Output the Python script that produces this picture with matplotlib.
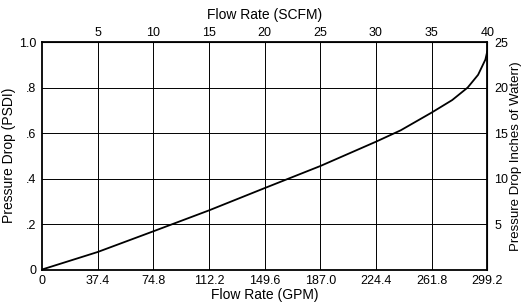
import matplotlib
matplotlib.use("Agg")
import matplotlib.pyplot as plt

# Data
gpm = [0, 37.4, 74.8, 112.2, 149.6, 187.0, 224.4, 241.0, 261.8, 275.6,
       286.0, 293.0, 297.9, 299.2]
psid = [0, 0.077, 0.168, 0.26, 0.358, 0.455, 0.562, 0.612, 0.69, 0.745,
        0.80, 0.856, 0.923, 0.96]

gpm_ticks = [0, 37.4, 74.8, 112.2, 149.6, 187.0, 224.4, 261.8, 299.2]
gpm_labels = ["0", "37.4", "74.8", "112.2", "149.6", "187.0", "224.4", "261.8", "299.2"]
psid_ticks = [0, 0.2, 0.4, 0.6, 0.8, 1.0]
psid_labels = ["0", ".2", ".4", ".6", ".8", "1.0"]
scfm_ticks = [5, 10, 15, 20, 25, 30, 35, 40]
inh2o_ticks = [5, 10, 15, 20, 25]

GPM_PER_SCFM = 7.48
INH2O_PER_PSID = 25.0

plt.rcParams['font.family'] = ['Liberation Sans', 'DejaVu Sans']
fs = 9
lfs = 10

fig = plt.figure(figsize=(5.24, 3.07), dpi=100)
ax = fig.add_axes([0.080, 0.122, 0.850, 0.741])

ax.plot(gpm, psid, color='black', lw=1.3, solid_capstyle='round',
        solid_joinstyle='round')
ax.set_xlim(0, 299.2)
ax.set_ylim(0, 1.0)
ax.set_xticks(gpm_ticks)
ax.set_xticklabels(gpm_labels, fontsize=fs)
ax.set_yticks(psid_ticks)
ax.set_yticklabels(psid_labels, fontsize=fs)
ax.tick_params(length=0, pad=4)
ax.set_xlabel("Flow Rate (GPM)", fontsize=lfs, labelpad=1)
ax.set_ylabel("Pressure Drop (PSDI)", fontsize=lfs, labelpad=2)

# grid: vertical lines at SCFM positions, horizontal at psid ticks
for t in gpm_ticks[1:-1]:
    ax.axvline(t, color='black', lw=0.7, zorder=1)
for t in psid_ticks[1:-1]:
    ax.axhline(t, color='black', lw=0.7, zorder=1)

for s in ax.spines.values():
    s.set_linewidth(1.3)
    s.set_color('black')

top = ax.secondary_xaxis('top', functions=(lambda g: g / GPM_PER_SCFM,
                                           lambda s: s * GPM_PER_SCFM))
top.set_xticks(scfm_ticks)
top.set_xticklabels([str(t) for t in scfm_ticks], fontsize=fs)
top.tick_params(length=0, pad=2)
top.set_xlabel("Flow Rate (SCFM)", fontsize=lfs, labelpad=6)

right = ax.secondary_yaxis('right', functions=(lambda p: p * INH2O_PER_PSID,
                                               lambda w: w / INH2O_PER_PSID))
right.set_yticks(inh2o_ticks)
right.set_yticklabels([str(t) for t in inh2o_ticks], fontsize=fs)
right.tick_params(length=0, pad=5)
right.set_ylabel("Pressure Drop Inches of Waterr)", fontsize=9.5, labelpad=1)

fig.savefig("out.png", dpi=100, facecolor='white')
